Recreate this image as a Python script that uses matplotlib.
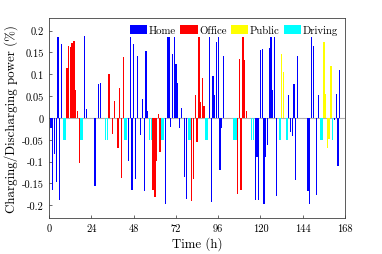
import matplotlib
matplotlib.use("Agg")
import matplotlib.pyplot as plt
from matplotlib.patches import Patch

plt.rcParams['font.family'] = 'serif'
plt.rcParams['font.serif'] = ['cmr10', 'DejaVu Serif']
plt.rcParams['mathtext.fontset'] = 'cm'
plt.rcParams['axes.unicode_minus'] = False
plt.rcParams['axes.formatter.use_mathtext'] = True

# ---- data (hour, charging/discharging power) ----
home_hours = [1, 2, 3, 4, 5, 6, 7, 20, 21, 26, 28, 29,
              45, 46, 47, 48, 49, 50, 52, 53, 54, 55, 56,
              66, 67, 68, 69, 70, 71, 72, 73, 74, 75, 77, 78,
              91, 92, 93, 94, 95, 96, 97, 98, 99,
              117, 118, 119, 120, 121, 122, 123, 124, 125, 126, 127, 128, 129,
              136, 137, 138, 139, 140, 141, 147, 148, 149, 150, 152, 153,
              162, 163, 164, 165]
home_values = [-0.024, -0.165, -0.083, -0.147, 0.185, -0.188, 0.170, 0.187, 0.021, -0.156, 0.077, 0.081,
               -0.098, 0.197, -0.165, 0.170, -0.140, 0.142, -0.038, 0.044, -0.167, 0.153, 0.015,
               -0.196, 0.197, 0.197, -0.021, 0.147, 0.197, 0.124, 0.081, -0.023, 0.024, -0.135, -0.186,
               0.185, -0.192, 0.097, 0.053, 0.174, 0.189, -0.118, -0.023, 0.143,
               -0.188, -0.089, -0.188, 0.156, 0.158, -0.196, -0.089, -0.061, 0.160, 0.185, 0.065, 0.197, -0.178,
               0.052, -0.032, -0.042, 0.077, -0.142, 0.143, -0.167, -0.196, 0.197, 0.166, -0.177, 0.053,
               -0.005, 0.056, -0.110, 0.109]

office_hours = [10, 11, 12, 13, 14, 15, 16, 17,
                34, 36, 37, 39, 40, 41, 42,
                59, 60, 61, 62, 63,
                81, 82, 83, 84, 85, 86, 87, 88,
                107, 108, 109, 110, 111, 112]
office_values = [0.114, 0.164, 0.162, 0.171, 0.177, 0.065, 0.015, -0.104,
                 0.101, -0.037, 0.039, -0.068, 0.068, -0.138, 0.139,
                 -0.165, -0.182, -0.099, 0.010, -0.078,
                 -0.190, -0.140, 0.052, -0.055, 0.200, 0.036, 0.092, 0.028,
                 -0.173, 0.135, -0.164, 0.189, 0.132, 0.016]

public_hours = [132, 133, 156, 157, 158, 159, 160]
public_values = [0.147, 0.105, 0.173, 0.055, -0.068, -0.049, 0.120]

driving_hours = [8, 9, 18, 19, 32, 33, 43, 44, 57, 58, 64, 65, 79, 80, 89, 90,
                 105, 106, 115, 116, 131, 135, 154, 155, 161]
driving_values = [-0.05] * len(driving_hours)

series_names = ['Home', 'Office', 'Public', 'Driving']
series_colors = ['#0000ff', '#ff0000', '#ffff00', '#00ffff']

xtick_vals = [0, 24, 48, 72, 96, 120, 144, 168]
ytick_vals = [-0.2, -0.15, -0.1, -0.05, 0, 0.05, 0.1, 0.15, 0.2]
ytick_labels = ['-0.2', '-0.15', '-0.1', '-0.05', '0', '0.05', '0.1', '0.15', '0.2']

fig = plt.figure(figsize=(3.82, 2.55), dpi=100)
ax = fig.add_axes([0.1289, 0.1412, 0.7742, 0.7843])

bw = 0.75
ax.axhline(0, color='#b0b0b0', lw=0.8, zorder=1)
ax.bar(driving_hours, driving_values, width=bw, color=series_colors[3], linewidth=0, zorder=2)
ax.bar(public_hours, public_values, width=bw, color=series_colors[2], linewidth=0, zorder=2)
ax.bar(office_hours, office_values, width=bw, color=series_colors[1], linewidth=0, zorder=3)
ax.bar(home_hours, home_values, width=bw, color=series_colors[0], linewidth=0, zorder=3)

ax.set_xlim(0, 168)
ax.set_ylim(-0.229, 0.229)
ax.set_xticks(xtick_vals)
ax.set_xticklabels([str(v) for v in xtick_vals])
ax.set_yticks(ytick_vals)
ax.set_yticklabels(ytick_labels)
ax.tick_params(direction='in', length=2.5, width=0.5, labelsize=7.5, colors='#303030',
               labelcolor='black')
ax.tick_params(axis='x', pad=4)
ax.tick_params(axis='y', pad=4)
for s in ax.spines.values():
    s.set_color('#404040')
    s.set_linewidth(0.6)

ax.set_xlabel('Time (h)', fontsize=9.3, labelpad=2.5)
ax.set_ylabel('Charging/Discharging power (%)', fontsize=9.3, labelpad=3)

handles = [Patch(facecolor=c, edgecolor='none') for c in series_colors]
leg = ax.legend(handles, series_names, loc='upper right', ncol=4, fontsize=7.8,
                bbox_to_anchor=(0.992, 0.985), frameon=True, framealpha=1,
                facecolor='white', edgecolor='none', fancybox=False,
                handlelength=1.6, handleheight=0.8, handletextpad=0.15,
                columnspacing=0.4, borderpad=0.2, borderaxespad=0.2)
leg.set_zorder(5)

fig.savefig('out.png', dpi=100)
